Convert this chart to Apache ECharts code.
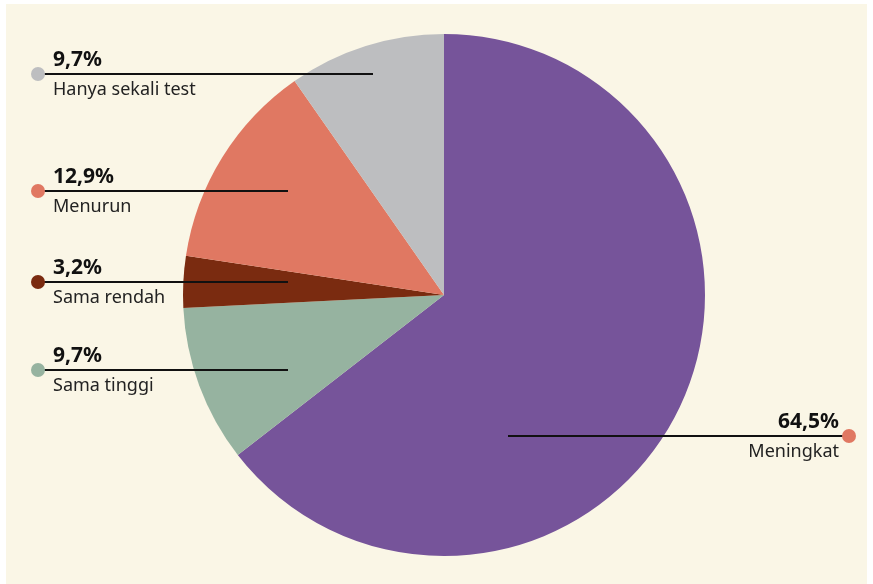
<!DOCTYPE html>
<html>
<head>
<meta charset="utf-8">
<script src="https://cdn.jsdelivr.net/npm/echarts@6/dist/echarts.min.js"></script>
<style>
  html, body { margin: 0; padding: 0; background: #ffffff; }
  #chart { width: 873px; height: 584px; }
</style>
</head>
<body>
<div id="chart"></div>
<script>
// Slices in clockwise order from 12 o'clock
const categories = ['Meningkat', 'Sama tinggi', 'Sama rendah', 'Menurun', 'Hanya sekali test'];
const shares = [64.5, 9.7, 3.2, 12.9, 9.7];
const sliceColors = ['#76549A', '#96B3A0', '#7A2B10', '#E07862', '#BDBEC0'];
const dotColors = ['#E07862', '#96B3A0', '#7A2B10', '#E07862', '#BDBEC0'];

// Callout layout: label row height, inner end of leader line, dot side
const callouts = [
  { y: 436, inner: 508, side: 'right' },
  { y: 370, inner: 288, side: 'left' },
  { y: 282, inner: 288, side: 'left' },
  { y: 191, inner: 288, side: 'left' },
  { y: 74,  inner: 373, side: 'left' }
];
const DOT_LEFT = 38, DOT_RIGHT = 849, TEXT_LEFT = 53, TEXT_RIGHT = 839;

const fmt = v => v.toFixed(1).replace('.', ',') + '%';

const chart = echarts.init(document.getElementById('chart'), null, { renderer: 'canvas' });

// Leader lines sit on top of the slices, ending in a coloured dot
const leaders = [];
callouts.forEach((c, i) => {
  const dotX = c.side === 'left' ? DOT_LEFT : DOT_RIGHT;
  leaders.push({
    type: 'line', z: 100, silent: true,
    shape: { x1: c.inner, y1: c.y, x2: dotX, y2: c.y },
    style: { stroke: '#111111', lineWidth: 2 }
  });
  leaders.push({
    type: 'circle', z: 101, silent: true,
    shape: { cx: dotX, cy: c.y, r: 7 },
    style: { fill: dotColors[i] }
  });
});

chart.setOption({
  animation: false,
  backgroundColor: '#ffffff',
  graphic: [
    { type: 'rect', z: -10, silent: true, shape: { x: 6, y: 4, width: 861, height: 580 }, style: { fill: '#FAF6E6' } }
  ].concat(leaders),
  series: [{
    type: 'pie',
    center: [444, 295],
    radius: [0, 261],
    startAngle: 90,
    clockwise: true,
    avoidLabelOverlap: false,
    data: categories.map((name, i) => ({ name, value: shares[i], itemStyle: { color: sliceColors[i] } })),
    label: {
      show: true,
      formatter: p => '{pct|' + fmt(p.value) + '}\n{name|' + p.name + '}',
      rich: {
        pct: { fontFamily: 'Noto Sans', fontWeight: 'bold', fontSize: 21, color: '#111111', lineHeight: 32 },
        name: { fontFamily: 'Noto Sans', fontSize: 18, color: '#222222', lineHeight: 28 }
      }
    },
    labelLine: { show: false },
    labelLayout: function (params) {
      const c = callouts[params.dataIndex];
      const left = c.side === 'left';
      return {
        x: left ? TEXT_LEFT : TEXT_RIGHT,
        y: c.y,
        align: left ? 'left' : 'right',
        verticalAlign: 'middle'
      };
    },
    emphasis: { disabled: true }
  }]
});
</script>
</body>
</html>
